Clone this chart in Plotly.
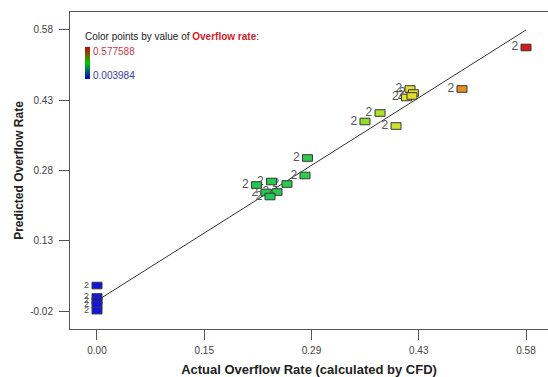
import plotly.graph_objects as go
from plotly.colors import sample_colorscale

# Actual (CFD) vs predicted overflow rate, one entry per design point
actual = [0.5776, 0.4920,
          0.4225, 0.4271, 0.4178, 0.4251,
          0.3824, 0.3623, 0.4038,
          0.2854, 0.2821, 0.2580, 0.2373, 0.2172, 0.2299, 0.2447, 0.2353,
          0.0040, 0.0040, 0.0040, 0.0040, 0.0040]
predicted = [0.5405, 0.4526,
             0.4526, 0.4441, 0.4346, 0.4378,
             0.4017, 0.3837, 0.3742,
             0.3064, 0.2693, 0.2513, 0.2566, 0.2492, 0.2333, 0.2343, 0.2248,
             0.0362, 0.0119, 0.0034, -0.0051, -0.0170]
point_labels = ["2"] * len(actual)

color_min, color_max = 0.003984, 0.577588

x_ticks = [0.003984, 0.147385, 0.290786, 0.434187, 0.577588]
x_tick_text = ["0.00", "0.15", "0.29", "0.43", "0.58"]
y_ticks = [-0.0178, 0.1311, 0.2799, 0.4288, 0.5776]
y_tick_text = ["-0.02", "0.13", "0.28", "0.43", "0.58"]

# y = x reference line between the smallest and largest actual values
line_x = [color_min, color_max]
line_y = [color_min, color_max]

x_range = [-0.0321, 0.6070]
y_range = [-0.0559, 0.6157]

point_scale = [
    [0.00, "rgb(20,20,225)"],
    [0.30, "rgb(30,170,120)"],
    [0.37, "rgb(34,200,84)"],
    [0.50, "rgb(46,205,72)"],
    [0.62, "rgb(140,220,40)"],
    [0.72, "rgb(225,228,45)"],
    [0.85, "rgb(232,145,35)"],
    [1.00, "rgb(215,25,25)"],
]
legend_scale = [[0.0, "rgb(0,0,210)"], [0.5, "rgb(0,200,0)"], [1.0, "rgb(210,0,0)"]]

W, H = 548, 377
M = dict(l=70, r=0, t=12, b=48)
plot_w = W - M["l"] - M["r"]
plot_h = H - M["t"] - M["b"]
# half-size of each rectangular point marker, converted from pixels to data units
half_w = 5.0 * (x_range[1] - x_range[0]) / plot_w
half_h = 3.3 * (y_range[1] - y_range[0]) / plot_h

font = "Arial, 'Liberation Sans', sans-serif"

fig = go.Figure()

fig.add_trace(go.Scatter(
    x=line_x, y=line_y, mode="lines",
    line=dict(color="#333333", width=1),
    hoverinfo="skip", showlegend=False,
))

# Run-count labels to the left of each point (smaller where points stack up)
label_sizes = [9 if a < 0.05 else 12 for a in actual]
fig.add_trace(go.Scatter(
    x=actual, y=predicted, mode="markers+text",
    text=point_labels, textposition="middle left",
    textfont=dict(family=font, size=label_sizes, color="#555555"),
    marker=dict(size=11, opacity=0),
    hoverinfo="skip", showlegend=False,
))

# Colour key
fig.add_trace(go.Scatter(
    x=[color_min, color_max], y=[color_min, color_max], mode="markers",
    marker=dict(
        size=1, opacity=0,
        color=[color_min, color_max], cmin=color_min, cmax=color_max,
        colorscale=legend_scale, showscale=True,
        colorbar=dict(
            x=(85 - M["l"]) / plot_w, xanchor="left",
            y=(M["t"] + plot_h - 62.5) / plot_h, yanchor="middle",
            len=32, lenmode="pixels", thickness=5,
            xpad=0, ypad=0, outlinewidth=0,
            showticklabels=False, ticks="",
        ),
    ),
    hoverinfo="skip", showlegend=False,
))

fractions = [min(max((a - color_min) / (color_max - color_min), 0.0), 1.0) for a in actual]
fills = sample_colorscale(point_scale, fractions)
shapes = []
for a, p, c in zip(actual, predicted, fills):
    shapes.append(dict(
        type="rect", xref="x", yref="y",
        x0=a - half_w, x1=a + half_w, y0=p - half_h, y1=p + half_h,
        fillcolor=c, line=dict(color="#383838", width=1), layer="above",
    ))

annotations = [
    dict(
        text="Color points by value of <b><span style='color:#d0202a'>Overflow rate</span></b>:",
        xref="paper", yref="paper",
        x=(83 - M["l"]) / plot_w, y=(M["t"] + plot_h - 37) / plot_h,
        xanchor="left", yanchor="middle", showarrow=False,
        font=dict(family=font, size=10, color="#222222"),
    ),
    dict(
        text="%.6f" % color_max, xref="paper", yref="paper",
        x=(91 - M["l"]) / plot_w, y=(M["t"] + plot_h - 51) / plot_h,
        xanchor="left", yanchor="middle", showarrow=False,
        font=dict(family=font, size=10, color="#c83a48"),
    ),
    dict(
        text="%.6f" % color_min, xref="paper", yref="paper",
        x=(91 - M["l"]) / plot_w, y=(M["t"] + plot_h - 76) / plot_h,
        xanchor="left", yanchor="middle", showarrow=False,
        font=dict(family=font, size=10, color="#3a3aa8"),
    ),
]

axis_common = dict(
    showgrid=False, zeroline=False, showline=True,
    linecolor="#555555", linewidth=1,
    ticks="outside", ticklen=10, tickcolor="#555555", tickwidth=1,
    tickfont=dict(family=font, size=10, color="#444444"),
)

fig.update_layout(
    width=W, height=H, margin=M,
    paper_bgcolor="white", plot_bgcolor="white",
    shapes=shapes, annotations=annotations,
    xaxis=dict(
        range=x_range, tickvals=x_ticks, ticktext=x_tick_text, mirror=True,
        title=dict(text="<b>Actual Overflow Rate (calculated by CFD)</b>",
                   font=dict(family=font, size=13, color="#222222"), standoff=11),
        ticklabelstandoff=2,
        **axis_common,
    ),
    yaxis=dict(
        range=y_range, tickvals=y_ticks, ticktext=y_tick_text,
        title=dict(text="<b>Predicted Overflow Rate</b>",
                   font=dict(family=font, size=12, color="#222222"), standoff=4),
        ticklabelstandoff=4,
        **axis_common,
    ),
)

fig.write_html("out.html")
